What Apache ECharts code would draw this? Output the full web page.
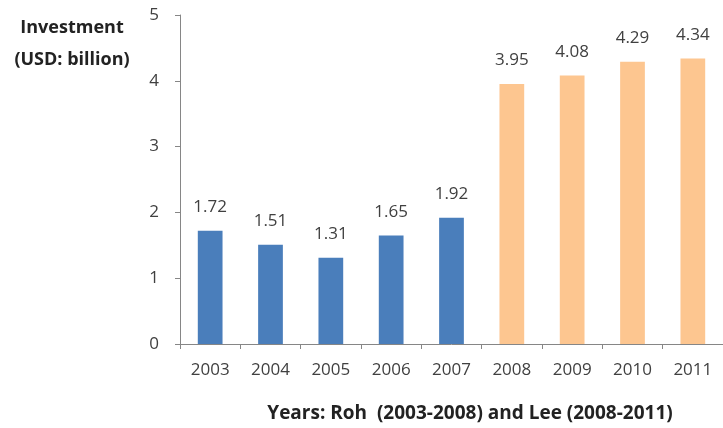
<!DOCTYPE html>
<html>
<head>
<meta charset="utf-8">
<style>
  html, body { margin: 0; padding: 0; background: #fff; }
  #chart { width: 723px; height: 428px; }
</style>
<script src="https://cdn.jsdelivr.net/npm/echarts@6/dist/echarts.min.js"></script>
</head>
<body>
<div id="chart"></div>
<script>
// data
const years = ['2003', '2004', '2005', '2006', '2007', '2008', '2009', '2010', '2011']
const investment = [1.72, 1.51, 1.31, 1.65, 1.92, 3.95, 4.08, 4.29, 4.34]
// 0 = Roh, 1 = Lee (2008 drawn in Lee's colour as in the picture)
const period = [0, 0, 0, 0, 0, 1, 1, 1, 1]
const periodColors = ['#4A7EBB', '#FDC690']

const textColor = '#404040'
const font = 'Open Sans'

const myChart = echarts.init(document.getElementById('chart'))

let option = {
  animation: false,
  textStyle: { fontFamily: font },
  grid: {
    left: 180,
    top: 15,
    width: 547,
    bottom: 84,
  },
  graphic: [
    {
      type: 'text',
      style: {
        text: 'Investment',
        x: 72,
        y: 28,
        align: 'center',
        verticalAlign: 'middle',
        font: 'bold 18px "Open Sans"',
        fill: '#222',
      },
    },
    {
      type: 'text',
      style: {
        text: '(USD: billion)',
        x: 72,
        y: 60,
        align: 'center',
        verticalAlign: 'middle',
        font: 'bold 18px "Open Sans"',
        fill: '#222',
      },
    },
    {
      type: 'text',
      style: {
        text: 'Years: Roh  (2003-2008) and Lee (2008-2011)',
        x: 470,
        y: 414,
        align: 'center',
        verticalAlign: 'middle',
        font: 'bold 19px "Open Sans"',
        fill: '#222',
      },
    },
  ],
  xAxis: {
    type: 'category',
    data: years,
    axisLine: { lineStyle: { color: '#868686' } },
    axisTick: { show: true, length: 5, lineStyle: { color: '#868686' } },
    axisLabel: { color: textColor, fontSize: 17, margin: 18 },
  },
  yAxis: {
    type: 'value',
    min: 0,
    max: 5,
    interval: 1,
    axisLine: { show: true, lineStyle: { color: '#868686' } },
    axisTick: { show: true, length: 5, lineStyle: { color: '#868686' } },
    axisLabel: { color: textColor, fontSize: 17, margin: 21 },
    splitLine: { show: false },
  },
  series: [
    {
      type: 'bar',
      barWidth: '41%',
      data: investment.map((v, i) => ({
        value: v,
        itemStyle: { color: periodColors[period[i]] },
      })),
      label: {
        show: true,
        position: 'top',
        distance: 15,
        color: textColor,
        fontSize: 17,
        formatter: (p) => p.value.toFixed(2),
      },
    },
  ],
}

myChart.setOption(option)
</script>
</body>
</html>
